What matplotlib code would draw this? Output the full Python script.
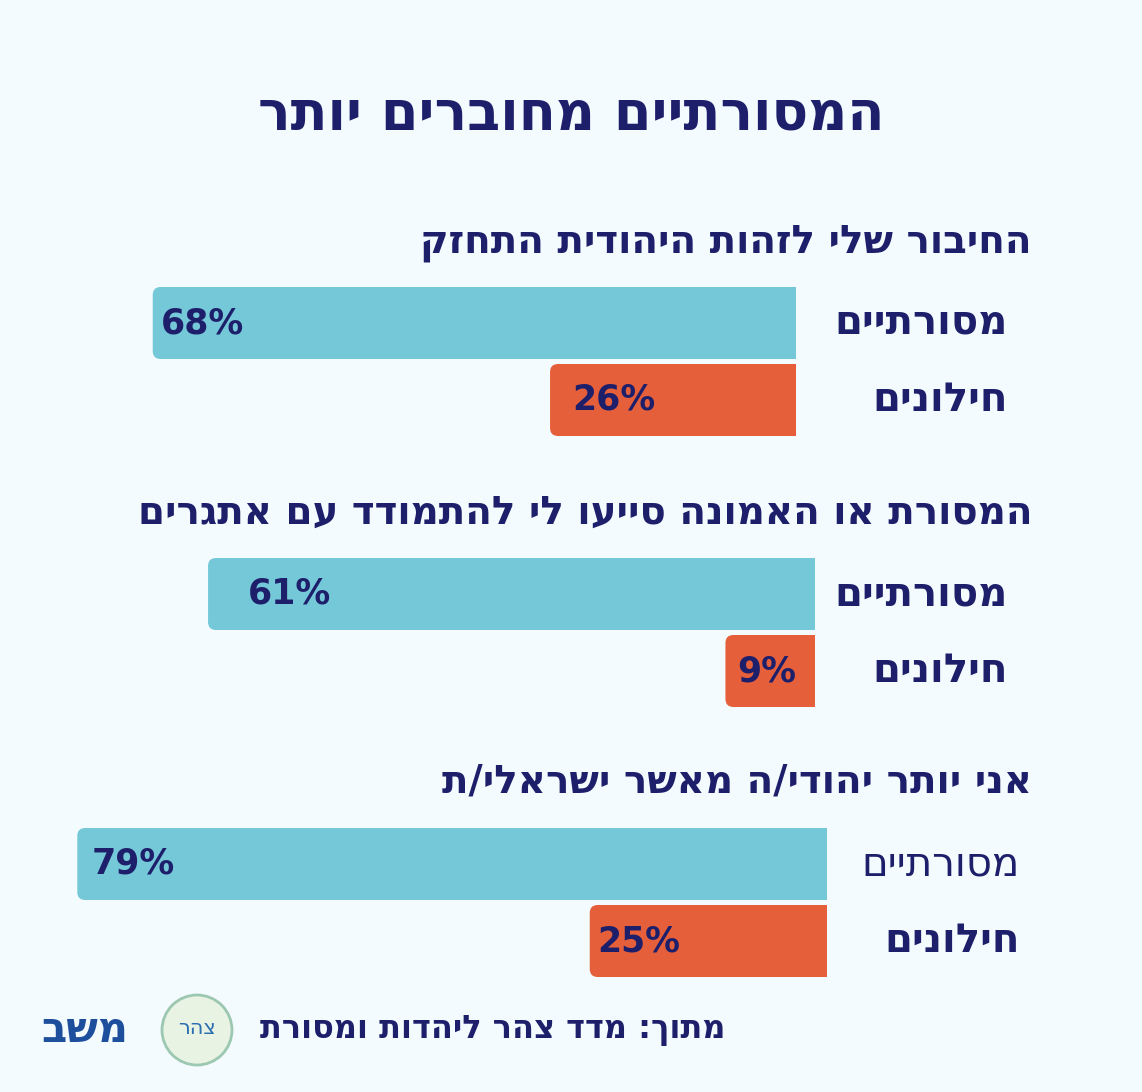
import matplotlib.pyplot as plt
from matplotlib.patches import Circle, FancyBboxPatch

def rtl(s):
    # matplotlib lays text out left to right, so Hebrew is reversed
    return s[::-1]

# ---------------- data ----------------
title = "המסורתיים מחוברים יותר"
questions = ["החיבור שלי לזהות היהודית התחזק",
             "המסורת או האמונה סייעו לי להתמודד עם אתגרים",
             "אני יותר יהודי/ה מאשר ישראלי/ת"]
groups = ["מסורתיים", "חילונים"]
traditional = [68, 61, 79]
secular = [26, 9, 25]
source = "מתוך: מדד צהר ליהדות ומסורת"

# ---------------- layout (pixels) ----------------
W, H = 1142, 1092
navy = "#1e1f6b"
blue = "#74c8d8"
orange = "#e5603a"
bg = "#f3fbfe"
right_edge = [796, 815, 827]
px_per_pct = [946, 995, 949]
header_y = [243, 513, 782]
bar_y = [(323, 400), (594, 671), (864, 941)]
label_x = [1008, 1008, 1020]
pct_pad = [[8, 22], [40, 12], [14, 8]]

fig = plt.figure(figsize=(W / 100, H / 100), dpi=100, facecolor=bg)
ax = fig.add_axes([0, 0, 1, 1])
ax.set_xlim(0, W)
ax.set_ylim(H, 0)
ax.axis("off")

font = "DejaVu Sans"
ax.text(571, 115, rtl(title), ha="center", va="center", fontsize=39,
        fontweight="bold", color=navy, family=font)

for i, q in enumerate(questions):
    ax.text(1032, header_y[i], rtl(q), ha="right", va="center", fontsize=28,
            fontweight="bold", color=navy, family=font)
    for j, (val, col) in enumerate([(traditional[i], blue), (secular[i], orange)]):
        w = val * px_per_pct[i] / 100
        left = right_edge[i] - w
        y = bar_y[i][j]
        r = 8
        ax.add_patch(FancyBboxPatch((left + r, y - 36 + r), w - 2 * r, 72 - 2 * r,
                                    boxstyle=f"round,pad={r}", fc=col, ec="none"))
        ax.barh(y, w / 2, left=right_edge[i] - w / 2, height=72, color=col, edgecolor="none")
        ax.text(left + pct_pad[i][j], y, f"{val}%", ha="left",
                va="center", fontsize=25, fontweight="bold", color=navy, family=font)
        weight = "normal" if (i == 2 and j == 0) else "bold"
        ax.text(label_x[i], y, rtl(groups[j]), ha="right", va="center",
                fontsize=29, fontweight=weight, color=navy, family=font)

# footer
ax.text(725, 1030, rtl(source), ha="right", va="center", fontsize=23,
        fontweight="bold", color=navy, family=font)
ax.add_patch(Circle((197, 1030), 35, facecolor="#e9f3e4", edgecolor="#9cc7b0", lw=2))
ax.text(197, 1028, rtl("צהר"), ha="center", va="center", fontsize=15,
        color="#2b6fb0", family=font)
ax.text(85, 1030, rtl("משב"), ha="center", va="center", fontsize=30,
        fontweight="bold", color="#1e4f9c", family=font)

fig.savefig("out.png", dpi=100, facecolor=bg)
